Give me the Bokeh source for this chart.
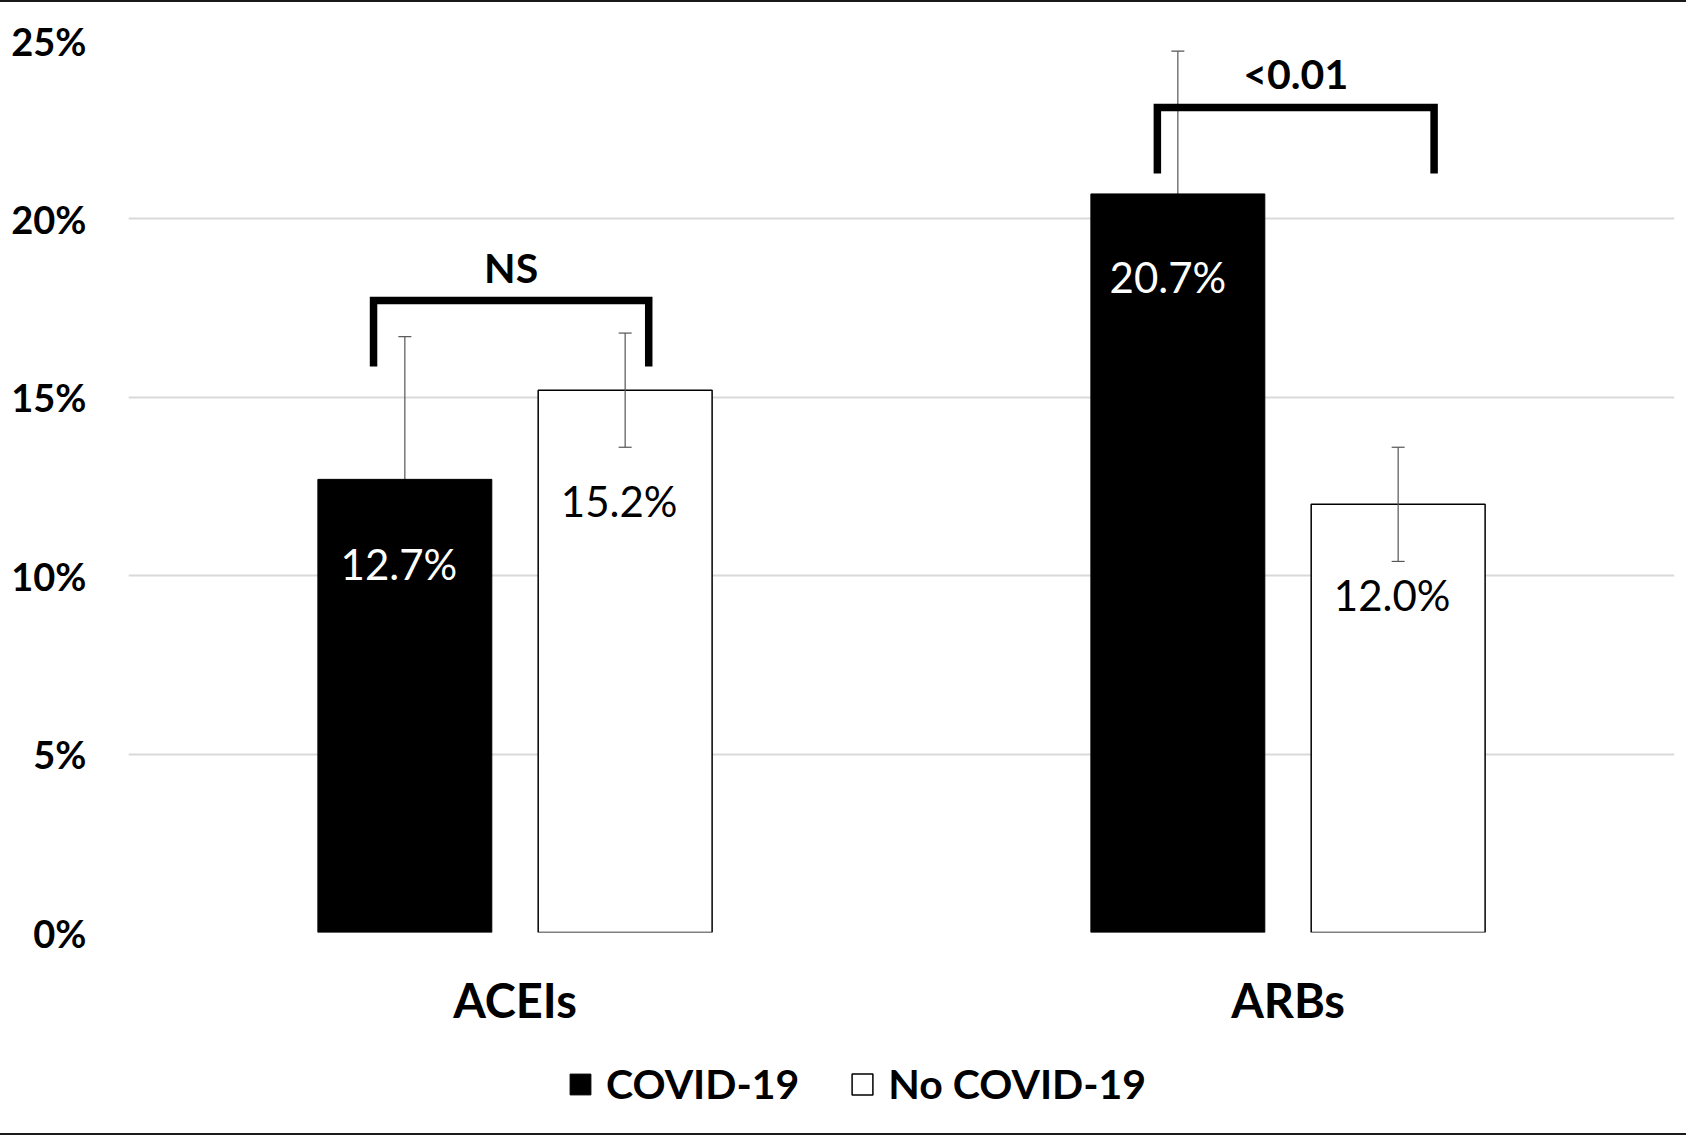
from bokeh.plotting import figure
from bokeh.layouts import column
from bokeh.models import (ColumnDataSource, FactorRange, Range1d, FixedTicker,
                          PrintfTickFormatter, Legend, LegendItem)
from bokeh.transform import dodge
from bokeh.core.properties import value
from bokeh.embed import file_html
from bokeh.resources import INLINE

# ---------------- data ----------------
categories = ["ACEIs", "ARBs"]
series_names = ["COVID-19", "No COVID-19"]
covid = [12.7, 20.7]
no_covid = [15.2, 12.0]
covid_err = [4.0, 4.0]
no_covid_err = [1.6, 1.6]
y_ticks = [0, 5, 10, 15, 20, 25]
comparison_labels = ["NS", "<0.01"]

# ---------------- styling / placement constants ----------------
FONT = "Lato"
BAR_W = 0.225
OFF = 0.1425
bracket_top = [17.71, 23.12]
bracket_bottom = [15.86, 21.27]
bracket_left = [-0.183, -0.169]
bracket_right = [0.173, 0.189]
bracket_text_y = [18.64, 24.07]
bracket_text_dx = [-0.005, 0.01]
covid_label_drop_px = [85, 83]
no_covid_label_drop_px = [111, 91]
covid_label_dx_px = [-6, -10]
no_covid_label_dx_px = [-6, -6]

src = ColumnDataSource(dict(
    cat=categories,
    covid=covid,
    no_covid=no_covid,
    covid_lo=[v - e for v, e in zip(covid, covid_err)],
    covid_hi=[v + e for v, e in zip(covid, covid_err)],
    no_lo=[v - e for v, e in zip(no_covid, no_covid_err)],
    no_hi=[v + e for v, e in zip(no_covid, no_covid_err)],
    covid_txt=["%.1f%%" % v for v in covid],
    no_txt=["%.1f%%" % v for v in no_covid],
    covid_drop=covid_label_drop_px,
    no_drop=no_covid_label_drop_px,
    covid_dx=covid_label_dx_px,
    no_dx=no_covid_label_dx_px,
))

p = figure(x_range=FactorRange(*categories), y_range=Range1d(0, 25),
           frame_width=1546, frame_height=892,
           min_border_left=128, min_border_right=12,
           min_border_top=38, min_border_bottom=108,
           output_backend="svg", toolbar_location=None,
           background_fill_color="white", border_fill_color="white")
p.outline_line_color = None

# grid
p.xgrid.grid_line_color = None
p.ygrid.ticker = FixedTicker(ticks=y_ticks)
p.ygrid.grid_line_color = "#d9d9d9"
p.ygrid.grid_line_width = 2

# axes
p.yaxis.ticker = FixedTicker(ticks=y_ticks)
p.yaxis.formatter = PrintfTickFormatter(format="%d%%")
for ax in (p.xaxis, p.yaxis):
    ax.axis_line_color = None
    ax.major_tick_line_color = None
    ax.minor_tick_line_color = None
    ax.major_label_text_font = FONT
    ax.major_label_text_font_style = "bold"
    ax.major_label_text_color = "black"
p.yaxis.major_label_text_font_size = "38px"
p.yaxis.major_label_standoff = 36
p.xaxis.major_label_text_font_size = "47px"
p.xaxis.major_label_standoff = 33

x_c = dodge("cat", -OFF, range=p.x_range)
x_n = dodge("cat", OFF, range=p.x_range)
ERR_COLOR = "#555555"

# COVID error bars drawn first (lower half hidden by black bar)
p.segment(x0=x_c, y0="covid_lo", x1=x_c, y1="covid_hi", source=src,
          line_color=ERR_COLOR, line_width=1.2)
p.scatter(x=x_c, y="covid_hi", marker="dash", size=13, source=src,
          line_color=ERR_COLOR, line_width=1.2)
p.scatter(x=x_c, y="covid_lo", marker="dash", size=13, source=src,
          line_color=ERR_COLOR, line_width=1.2)

p.vbar(x=x_c, top="covid", width=BAR_W, source=src,
       fill_color="black", line_color="black", line_width=1)
p.vbar(x=x_n, top="no_covid", width=BAR_W, source=src,
       fill_color="white", line_color="black", line_width=1.5)

p.segment(x0=x_n, y0="no_lo", x1=x_n, y1="no_hi", source=src,
          line_color=ERR_COLOR, line_width=1.2)
p.scatter(x=x_n, y="no_hi", marker="dash", size=13, source=src,
          line_color=ERR_COLOR, line_width=1.2)
p.scatter(x=x_n, y="no_lo", marker="dash", size=13, source=src,
          line_color=ERR_COLOR, line_width=1.2)

# value labels
p.text(x=x_c, y="covid", text="covid_txt", source=src, y_offset="covid_drop",
       x_offset="covid_dx", text_color="white", text_font=value(FONT),
       text_font_size="42px", text_align="center", text_baseline="middle")
p.text(x=x_n, y="no_covid", text="no_txt", source=src, y_offset="no_drop",
       x_offset="no_dx", text_color="black", text_font=value(FONT),
       text_font_size="42px", text_align="center", text_baseline="middle")

# significance brackets (synthetic categorical coordinates: factor i -> i + 0.5)
bxs, bys, tx = [], [], []
for i, cat in enumerate(categories):
    c = i + 0.5
    bxs.append([c + bracket_left[i], c + bracket_left[i], c + bracket_right[i], c + bracket_right[i]])
    bys.append([bracket_bottom[i], bracket_top[i], bracket_top[i], bracket_bottom[i]])
    tx.append(c + bracket_text_dx[i])
p.multi_line(xs=bxs, ys=bys, line_color="black", line_width=7.5,
             line_join="miter", line_cap="butt")
p.text(x=tx, y=bracket_text_y, text=comparison_labels, text_color="black",
       text_font=value(FONT), text_font_size="41px", text_font_style="bold",
       text_align="center", text_baseline="middle")

# ---------------- legend strip (separate figure under the chart) ----------------
lg = figure(width=1686, height=93, x_range=Range1d(0, 1), y_range=Range1d(0, 1),
            x_axis_type=None, y_axis_type=None, min_border=0,
            output_backend="svg", toolbar_location=None,
            background_fill_color="white", border_fill_color="white")
lg.outline_line_color = None
lg.grid.grid_line_color = None
# legend swatch renderers (hidden; only used for the legend swatches)
lr_c = lg.vbar(x=[10], top=[-5], bottom=[-6], width=0.1,
               fill_color="black", line_color="black", line_width=1)
lr_n = lg.vbar(x=[10], top=[-5], bottom=[-6], width=0.1,
               fill_color="white", line_color="black", line_width=1.5)
lr_c.visible = False
lr_n.visible = False

legend = Legend(items=[LegendItem(label=series_names[0], renderers=[lr_c]),
                       LegendItem(label=series_names[1], renderers=[lr_n])],
                location=(439, 25), orientation="horizontal",
                glyph_width=26, glyph_height=26, label_standoff=13, spacing=50,
                padding=0, margin=0, border_line_color=None,
                background_fill_alpha=0,
                label_text_font=FONT, label_text_font_size="41px",
                label_text_font_style="bold", label_text_color="black")
lg.add_layout(legend)

layout = column(p, lg, spacing=0,
                styles={"border-top": "2px solid #1a1a1a",
                        "border-bottom": "2px solid #1a1a1a"})
open("out.html", "w").write(file_html(layout, INLINE))
